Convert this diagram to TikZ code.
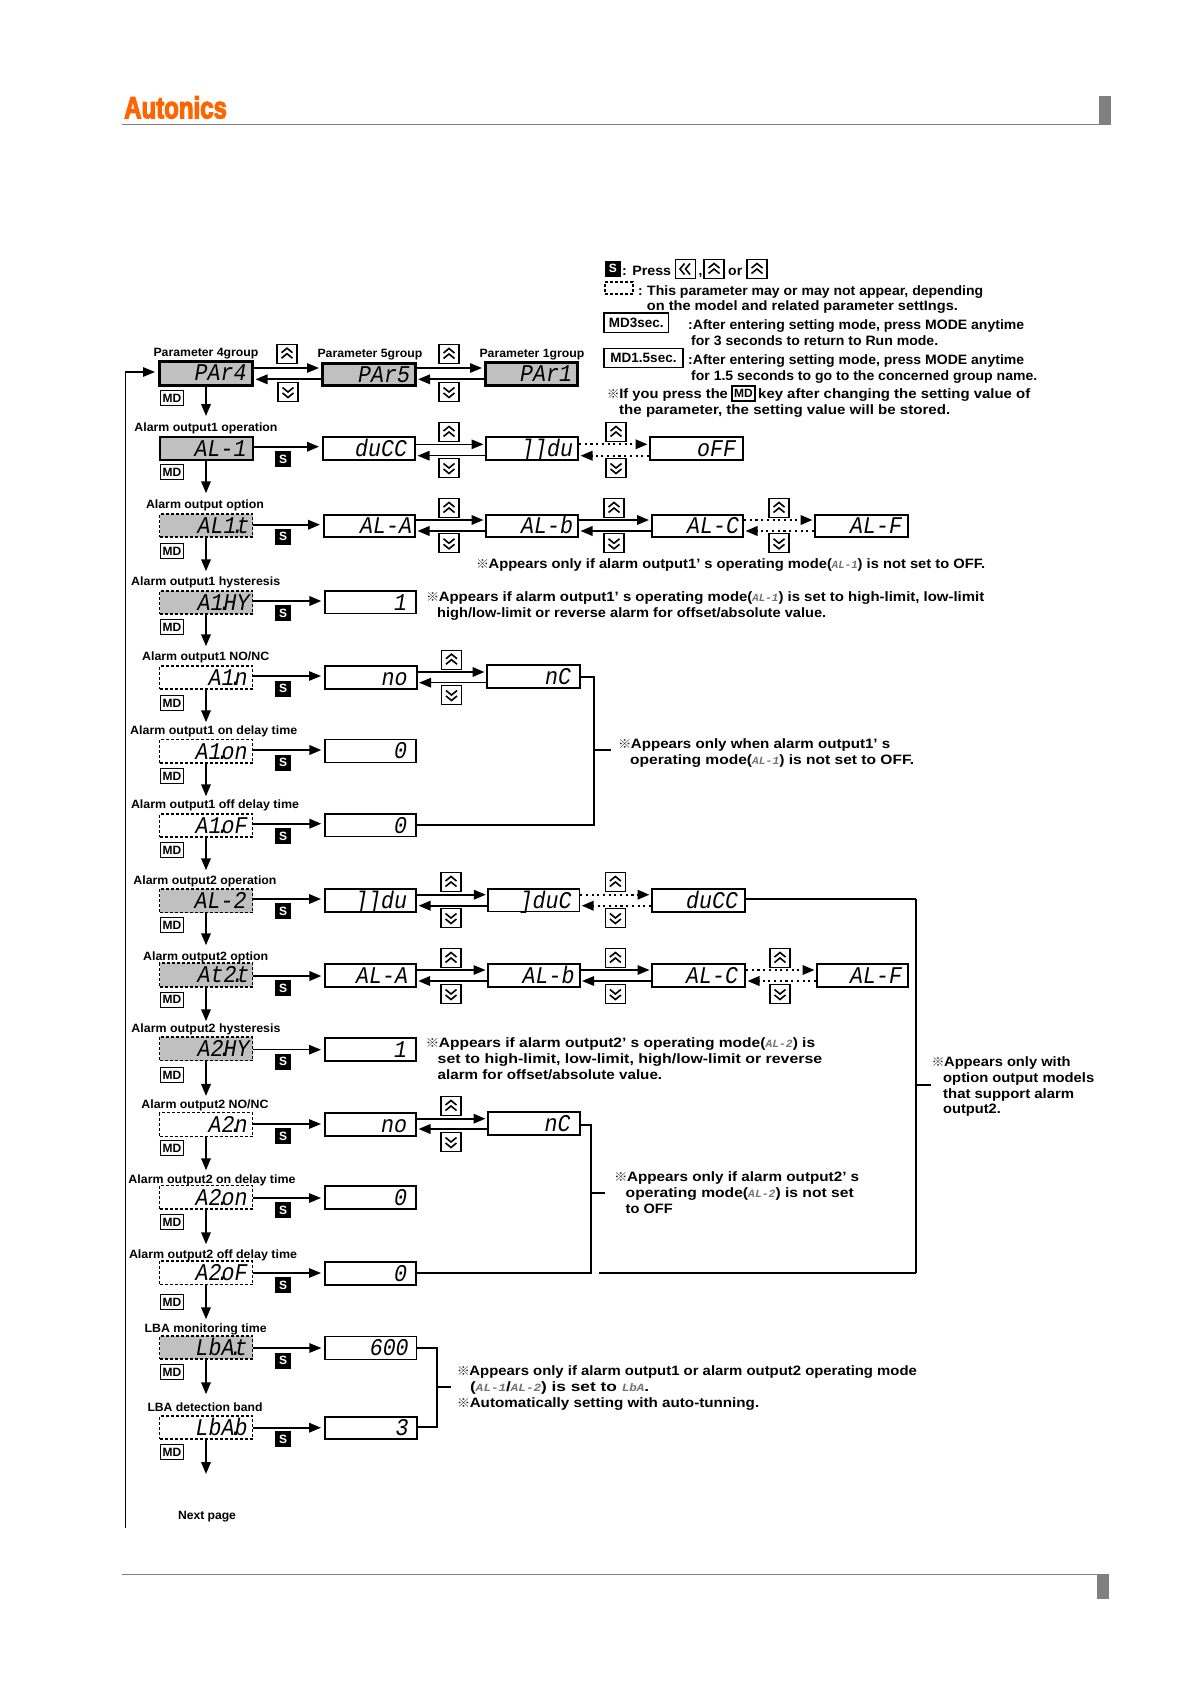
\documentclass[tikz,border=0pt]{standalone}
\usepackage{fontspec}
\usepackage{graphicx}
\usetikzlibrary{arrows.meta,calc}
\newfontfamily\lab{Liberation Sans}
\newfontfamily\dsp[FakeStretch=0.9]{Liberation Mono}
\newfontfamily\cjk{Noto Sans CJK KR}
\newfontfamily\logofont[FakeBold=4]{Liberation Sans}
\definecolor{boxgray}{HTML}{C0C0C0}
\definecolor{rulegray}{HTML}{808080}
\definecolor{logoorange}{HTML}{FF6400}
\newcommand\kome{\makebox[11.5pt][l]{\cjk\bfseries\fontsize{12}{12}\selectfont\textcolor{black!85}{※}}}
\newcommand\smseg[1]{{\dsp\itshape\fontsize{11}{11}\selectfont\textcolor{black!55}{#1}}}
\newcommand\dpt{\kern-5pt.\kern-8pt}
\tikzset{
  x=1pt,y=-1pt,
  solidbig/.style={draw,line width=3pt,fill=boxgray},
  solidgray/.style={draw,line width=2pt,fill=boxgray},
  dashgray/.style={draw,line width=1.5pt,fill=boxgray,dash pattern=on 3pt off 2pt},
  dashwhite/.style={draw,line width=1.5pt,fill=white,dash pattern=on 3pt off 2pt},
  valthin/.style={draw,line width=1.3pt,fill=white},
  valbold/.style={draw,line width=2pt,fill=white},
  keybox/.style={draw,line width=1.1pt,fill=white,minimum width=20pt,minimum height=19pt,inner sep=0pt},
  chev/.style={line width=1.6pt,line join=miter},
  mdkey/.style={draw,line width=1.2pt,fill=white,minimum width=23pt,minimum height=15pt,inner sep=0pt,font=\lab\bfseries\fontsize{12}{12}\selectfont},
  skey/.style={fill=black,text=white,minimum width=16pt,minimum height=16pt,inner sep=0pt,font=\lab\bfseries\fontsize{12}{12}\selectfont},
  tri/.style={-{Triangle[length=12pt,width=9.5pt]}},
  ln/.style={line width=1.4pt},
  lnb/.style={line width=2pt},
  dots/.style={line width=2.1pt,dash pattern=on 2.1pt off 3.6pt},
  note/.style={anchor=base west,inner sep=0pt,font=\lab\bfseries\fontsize{13.6}{13.6}\selectfont},
  caption/.style={anchor=base,inner sep=0pt,font=\lab\bfseries\fontsize{12}{12}\selectfont},
}
% name x1 y1 x2 y2 style margin text
\newcommand\dbox[8]{%
  \pgfmathsetlengthmacro\boxw{#4-#2}%
  \pgfmathsetlengthmacro\boxh{#5-#3}%
  \pgfmathsetlengthmacro\innerw{#4-#2-2*#7}%
  \node[#6,minimum width=\boxw,minimum height=\boxh,inner sep=0pt,font=\dsp\itshape\fontsize{24}{24}\selectfont] (#1) at ({(#2+#4)/2},{(#3+#5)/2})
    {\makebox[\innerw][r]{\rule{0pt}{15.5pt}\smash{#8}}};}
\newcommand\tl[5]{\node[note] (#1) at (#2,#3+5) {\resizebox{#4pt}{\height}{#5}};}
\newcommand\capt[5]{\node[caption] (#1) at (#2,#3+4.2) {\resizebox{#4pt}{\height}{#5}};}
\newcommand\kup[3]{\node[keybox] (#1) at (#2,#3) {};
  \draw[chev] ([shift={(-5.5,-1)}]#1.center) -- ([shift={(0,-5.5)}]#1.center) -- ([shift={(5.5,-1)}]#1.center);
  \draw[chev] ([shift={(-5.5,4.5)}]#1.center) -- ([shift={(0,0)}]#1.center) -- ([shift={(5.5,4.5)}]#1.center);}
\newcommand\kdn[3]{\node[keybox] (#1) at (#2,#3) {};
  \draw[chev] ([shift={(-5.5,-4.5)}]#1.center) -- ([shift={(0,0)}]#1.center) -- ([shift={(5.5,-4.5)}]#1.center);
  \draw[chev] ([shift={(-5.5,1)}]#1.center) -- ([shift={(0,5.5)}]#1.center) -- ([shift={(5.5,1)}]#1.center);}
\newcommand\klf[3]{\node[keybox] (#1) at (#2,#3) {};
  \draw[chev] ([shift={(-1,-5.5)}]#1.center) -- ([shift={(-5.5,0)}]#1.center) -- ([shift={(-1,5.5)}]#1.center);
  \draw[chev] ([shift={(4.5,-5.5)}]#1.center) -- ([shift={(0,0)}]#1.center) -- ([shift={(4.5,5.5)}]#1.center);}
% a b yupper ylower styleU styleL
\newcommand\arrs[6]{%
  \draw[#5,tri,shorten >=1.5pt] (#1.east |- 0,#3) -- (#2.west |- 0,#3);
  \draw[#6,tri,shorten >=1.5pt] (#2.west |- 0,#4) -- (#1.east |- 0,#4);}
\newcommand\enter[4]{\draw[#4,tri,shorten >=3pt] (#1.east |- 0,#3) -- (#2.west |- 0,#3);}
\newcommand\dnarr[3]{\draw[lnb,tri,shorten >=#3pt] (#1.south) -- (#2.north);}
\begin{document}
\begin{tikzpicture}
\useasboundingbox (0,0) rectangle (1191,1684);
\fill[white] (0,0) rectangle (1191,1684);
% header and footer
\node[inner sep=0pt,anchor=north west,text=logoorange] (logo) at (124,96) {\resizebox{102.7pt}{22pt}{\logofont\bfseries Autonics}};
\coordinate (hl) at (122,124.3); \coordinate (hr) at (1099,124.3);
\draw[rulegray,line width=1.2pt] (hl) -- (hr);
\fill[rulegray] (1099,96) rectangle (1111,125);
\coordinate (fl) at (122,1574.3); \coordinate (fr) at (1097,1574.3);
\draw[rulegray,line width=1.2pt] (fl) -- (fr);
\fill[rulegray] (1097,1574) rectangle (1109,1598.7);
% legend
\node[skey] (legs) at (612.8,268.5) {S};
\tl{legpress}{622}{270}{49}{: Press}
\klf{legk1}{685.5}{269}
\node[note] (legcomma) at (698.5,275) {,};
\kup{legk2}{714}{269}
\tl{legor}{728}{270}{14}{or}
\kup{legk3}{757}{269}
\node[draw,line width=1.2pt,dash pattern=on 3pt off 2pt,minimum width=28pt,minimum height=12pt,inner sep=0pt] (legdash) at (619,288) {};
\node[note] (legcolon) at (638,295) {:};
\tl{leg1}{647}{290}{336}{This parameter may or may not appear, depending}
\tl{leg2}{646.7}{305}{311}{on the model and related parameter settIngs.}
\node[draw,line width=1.5pt,minimum width=64.7pt,minimum height=19.7pt,inner sep=0pt,font=\lab\bfseries\fontsize{13.5}{13.5}\selectfont] (md3) at (636.3,322.8) {MD3sec.};
\tl{leg3}{688}{324}{336}{:After entering setting mode, press MODE anytime}
\tl{leg4}{691}{340}{247}{for 3 seconds to return to Run mode.}
\node[draw,line width=1.5pt,minimum width=79pt,minimum height=19pt,inner sep=0pt,font=\lab\bfseries\fontsize{13.5}{13.5}\selectfont] (md15) at (643.5,358.2) {MD1.5sec.};
\tl{leg5}{688}{359}{336}{:After entering setting mode, press MODE anytime}
\tl{leg6}{691}{375}{346}{for 1.5 seconds to go to the concerned group name.}
\tl{leg7}{606.7}{393}{121}{\kome If you press the}
\node[mdkey] (legmd) at (743.5,393.5) {MD};
\tl{leg7b}{758}{393}{272}{key after changing the setting value of}
\tl{leg8}{619}{409}{331}{the parameter, the setting value will be stored.}
% captions
\capt{c0a}{206}{352}{105}{Parameter 4group}
\capt{c0b}{370}{353}{105}{Parameter 5group}
\capt{c0c}{532}{353}{105}{Parameter 1group}
\capt{c1}{206}{427}{143}{Alarm output1 operation}
\capt{c2}{205}{504}{118}{Alarm output option}
\capt{c3}{205.7}{581}{149}{Alarm output1 hysteresis}
\capt{c4}{205.7}{656}{127}{Alarm output1 NO/NC}
\capt{c5}{213.7}{730.7}{167}{Alarm output1 on delay time}
\capt{c6}{215}{804.7}{168}{Alarm output1 off delay time}
\capt{c7}{205}{880.7}{143}{Alarm output2 operation}
\capt{c8}{205.7}{956}{125}{Alarm output2 option}
\capt{c9}{206}{1028}{149}{Alarm output2 hysteresis}
\capt{c10}{205}{1104}{127}{Alarm output2 NO/NC}
\capt{c11}{212}{1179.7}{167}{Alarm output2 on delay time}
\capt{c12}{213}{1254.7}{168}{Alarm output2 off delay time}
\capt{c13}{205.7}{1328}{122}{LBA monitoring time}
\capt{c14}{205}{1407}{115}{LBA detection band}
\capt{cnext}{207}{1515}{58}{Next page}
% group row
\dbox{par4}{159.5}{361}{252.5}{385}{solidbig}{6}{PAr4}
\dbox{par5}{322}{363}{415}{385.5}{solidbig}{5}{PAr5}
\dbox{par1}{485}{362.7}{577}{385}{solidbig}{5}{PAr1}
% left column
\dbox{L1}{159.5}{437}{252.5}{460}{solidgray}{6}{AL-1}
\dbox{L2}{159.5}{514}{252.5}{537}{dashgray}{3}{AL1\dpt t}
\dbox{L3}{159.5}{591}{252.5}{614}{dashgray}{3}{A1\dpt HY}
\dbox{L4}{159.5}{666}{252.5}{689}{dashwhite}{5}{A1\dpt n}
\dbox{L5}{159.5}{739.5}{252.5}{763}{dashwhite}{5}{A1\dpt on}
\dbox{L6}{159.5}{814}{252.5}{837}{dashwhite}{5}{A1\dpt oF}
\dbox{L7}{159.5}{889}{252.5}{912.7}{dashgray}{6}{AL-2}
\dbox{L8}{159.5}{963}{252.5}{987}{dashgray}{3}{At2\dpt t}
\dbox{L9}{159.5}{1037}{252.5}{1060.7}{dashgray}{3}{A2\dpt HY}
\dbox{L10}{159.5}{1112.7}{252.5}{1136.7}{dashwhite}{5}{A2\dpt n}
\dbox{L11}{159.5}{1185.7}{252.5}{1209}{dashwhite}{5}{A2\dpt on}
\dbox{L12}{159.5}{1261}{252.5}{1284.7}{dashwhite}{5}{A2\dpt oF}
\dbox{L13}{159.5}{1336}{252.5}{1359}{dashgray}{5}{LbA\dpt t}
\dbox{L14}{159.5}{1416}{252.5}{1439}{dashwhite}{5}{LbA\dpt b}
% value boxes
\dbox{v1a}{323}{437}{415}{460}{valbold}{8}{duCC}
\dbox{v1b}{486}{437}{578}{460}{valbold}{5}{]]du}
\dbox{v1c}{650}{437}{743}{460}{valbold}{7}{oFF}
\dbox{v2a}{324}{514.5}{415}{537}{valbold}{3}{AL-A}
\dbox{v2b}{486}{514.5}{578}{537}{valbold}{5}{AL-b}
\dbox{v2c}{651.5}{514.5}{743}{537}{valbold}{4}{AL-C}
\dbox{v2f}{815}{514.5}{908}{537}{valbold}{6}{AL-F}
\dbox{v3a}{325}{591}{416}{613.5}{valthin}{9}{1}
\dbox{v4a}{325}{666}{416.5}{689}{valbold}{9}{no}
\dbox{v4b}{487}{665}{580}{688}{valbold}{9}{nC}
\dbox{v5a}{325}{739.5}{416}{762.5}{valthin}{9}{0}
\dbox{v6a}{325}{814}{416}{836.7}{valthin}{9}{0}
\dbox{v7a}{325}{889}{416}{912}{valbold}{9}{]]du}
\dbox{v7b}{488}{889}{579.5}{911.5}{valthin}{8}{]duC}
\dbox{v7c}{652}{889}{745}{911.5}{valbold}{7}{duCC}
\dbox{v8a}{325}{964}{416}{987}{valthin}{8}{AL-A}
\dbox{v8b}{488}{964}{579.5}{987}{valbold}{5}{AL-b}
\dbox{v8c}{652}{964}{745}{987}{valbold}{7}{AL-C}
\dbox{v8f}{817}{964}{908}{987}{valbold}{6}{AL-F}
\dbox{v9a}{325}{1037.5}{416}{1061}{valbold}{9}{1}
\dbox{v10a}{325}{1112.5}{416}{1136}{valbold}{9}{no}
\dbox{v10b}{488}{1111.5}{579.5}{1135}{valbold}{9}{nC}
\dbox{v11a}{325}{1186}{416}{1209}{valbold}{9}{0}
\dbox{v12a}{325}{1262}{416}{1285}{valbold}{9}{0}
\dbox{v13a}{325}{1336.5}{416.7}{1359.5}{valthin}{8}{600}
\dbox{v14a}{325}{1416.5}{416.7}{1439}{valbold}{8}{3}
% MD keys
\foreach \nm/\yy in {m0/398,m1/472,m2/551,m3/627,m4/703,m5/776,m6/850,m7/925,m8/999.7,m9/1075,m10/1148,m11/1222,m12/1302,m13/1372,m14/1452}
  \node[mdkey] (\nm) at (172,\yy) {MD};
% S keys
\foreach \nm/\yy in {s1/459,s2/536.7,s3/613,s4/688.7,s5/762.7,s6/836,s7/911,s8/988,s9/1061.7,s10/1136,s11/1210,s12/1285,s13/1360.7,s14/1439}
  \node[skey] (\nm) at (283,\yy) {S};
% main column
\dnarr{par4}{L1}{20}
\dnarr{L1}{L2}{20}
\dnarr{L2}{L3}{19}
\dnarr{L3}{L4}{19}
\dnarr{L4}{L5}{16.5}
\dnarr{L5}{L6}{17}
\dnarr{L6}{L7}{18}
\dnarr{L7}{L8}{17}
\dnarr{L8}{L9}{15}
\dnarr{L9}{L10}{16}
\dnarr{L10}{L11}{14.7}
\dnarr{L11}{L12}{16}
\dnarr{L12}{L13}{16}
\dnarr{L13}{L14}{21}
\coordinate (nextp) at (206,1474);
\draw[lnb,tri] (L14.south) -- (nextp);
% loop line
\coordinate (loopa) at (125.5,1528);
\coordinate (loopb) at (125.5,372);
\draw[ln,tri,shorten >=3pt] (loopa) -- (loopb) -- (par4.west |- loopb);
% entries
\enter{L1}{v1a}{446.7}{lnb}
\enter{L2}{v2a}{524.7}{lnb}
\enter{L3}{v3a}{601}{lnb}
\enter{L4}{v4a}{676}{ln}
\enter{L5}{v5a}{750}{lnb}
\enter{L6}{v6a}{823.7}{lnb}
\enter{L7}{v7a}{899}{lnb}
\enter{L8}{v8a}{976}{lnb}
\enter{L9}{v9a}{1049.7}{ln}
\enter{L10}{v10a}{1124}{ln}
\enter{L11}{v11a}{1198}{ln}
\enter{L12}{v12a}{1273}{ln}
\enter{L13}{v13a}{1348}{ln}
\enter{L14}{v14a}{1427.7}{lnb}
% pairs
\arrs{par4}{par5}{368}{379.3}{ln}{lnb}
\arrs{par5}{par1}{368}{379.3}{ln}{lnb}
\arrs{v1a}{v1b}{444.3}{455.7}{ln}{ln}
\arrs{v1b}{v1c}{444.3}{455.7}{dots}{dots}
\arrs{v2a}{v2b}{520}{531}{lnb}{lnb}
\arrs{v2b}{v2c}{520}{531}{lnb}{lnb}
\arrs{v2c}{v2f}{520}{531}{dots}{dots}
\arrs{v4a}{v4b}{672}{682.7}{lnb}{ln}
\arrs{v7a}{v7b}{894.7}{905.7}{lnb}{lnb}
\arrs{v7b}{v7c}{894.7}{905.7}{dots}{dots}
\arrs{v8a}{v8b}{970}{981}{ln}{lnb}
\arrs{v8b}{v8c}{970}{981}{ln}{ln}
\arrs{v8c}{v8f}{970}{981}{dots}{dots}
\arrs{v10a}{v10b}{1118.7}{1129}{lnb}{lnb}
% keys
\kup{k0au}{287}{353.7} \kdn{k0ad}{288}{392}
\kup{k0bu}{449}{354} \kdn{k0bd}{449}{392}
\kup{k1au}{449}{432} \kdn{k1ad}{449}{468}
\kup{k1bu}{616}{432} \kdn{k1bd}{616}{468}
\kup{k2au}{449}{508} \kdn{k2ad}{449}{543.3}
\kup{k2bu}{614}{508} \kdn{k2bd}{614}{543.3}
\kup{k2cu}{779}{508} \kdn{k2cd}{779}{543.3}
\kup{k4au}{451.5}{659.7} \kdn{k4ad}{451.5}{695}
\kup{k7au}{451}{882} \kdn{k7ad}{451}{918}
\kup{k7bu}{615.4}{882} \kdn{k7bd}{615.4}{918}
\kup{k8au}{451}{958} \kdn{k8ad}{451}{994}
\kup{k8bu}{615.4}{958} \kdn{k8bd}{615.4}{994}
\kup{k8cu}{780}{958} \kdn{k8cd}{780}{994}
\kup{k10au}{451}{1106} \kdn{k10ad}{451}{1142}
% brackets
\coordinate (b1t) at (594,677); \coordinate (b1b) at (594,825);
\coordinate (b1m) at (594,750); \coordinate (b1e) at (611,750);
\draw[ln] (v4b.east |- b1t) -- (b1t) -- (b1b) -- (v6a.east |- b1b);
\draw[lnb] (b1m) -- (b1e);
\coordinate (b2t) at (591.4,1124.7); \coordinate (b2b) at (591.4,1272.7);
\coordinate (b2m) at (591.4,1193); \coordinate (b2e) at (605,1193);
\draw[lnb] (v10b.east |- b2t) -- (b2t) -- (b2b) -- (v12a.east |- b2b);
\draw[lnb] (b2m) -- (b2e);
\coordinate (b3t) at (916,899); \coordinate (b3b) at (916,1272.7);
\coordinate (b3f) at (599,1272.7);
\coordinate (b3m) at (916,1084.7); \coordinate (b3e) at (930.6,1084.7);
\draw[ln] (b3t) -- (b3b);
\draw[lnb] (v7c.east |- b3t) -- (b3t);
\draw[lnb] (b3b) -- (b3f);
\draw[lnb] (b3m) -- (b3e);
\coordinate (b4t) at (437,1348); \coordinate (b4b) at (437,1427);
\coordinate (b4m) at (437,1387); \coordinate (b4e) at (451,1387);
\draw[ln] (v13a.east |- b4t) -- (b4t) -- (b4b) -- (v14a.east |- b4b);
\draw[ln] (b4m) -- (b4e);
% notes
\tl{n2}{476}{563}{509}{\kome Appears only if alarm output1’ s operating mode(\smseg{AL-1}) is not set to OFF.}
\tl{n3a}{426}{596}{558}{\kome Appears if alarm output1’ s operating mode(\smseg{AL-1}) is set to high-limit, low-limit}
\tl{n3b}{437}{612}{389}{high/low-limit or reverse alarm for offset/absolute value.}
\tl{n5a}{618}{743.7}{272}{\kome Appears only when alarm output1’ s}
\tl{n5b}{630}{759}{284}{operating mode(\smseg{AL-1}) is not set to OFF.}
\tl{n9a}{425.5}{1042}{389.5}{\kome Appears if alarm output2’ s operating mode(\smseg{AL-2}) is}
\tl{n9b}{437.5}{1058}{384.5}{set to high-limit, low-limit, high/low-limit or reverse}
\tl{n9c}{437.5}{1074}{224.5}{alarm for offset/absolute value.}
\tl{n11a}{614}{1176.7}{245}{\kome Appears only if alarm output2’ s}
\tl{n11b}{625.5}{1192}{228}{operating mode(\smseg{AL-2}) is not set}
\tl{n11c}{625.5}{1208}{47}{to OFF}
\tl{nra}{931.5}{1061}{139}{\kome Appears only with}
\tl{nrb}{943}{1077}{151}{option output models}
\tl{nrc}{943}{1093}{131}{that support alarm}
\tl{nrd}{943}{1108.7}{57.6}{output2.}
\tl{nla}{456.7}{1370.7}{460}{\kome Appears only if alarm output1 or alarm output2 operating mode}
\tl{nlb}{470}{1386}{179}{(\smseg{AL-1}/\smseg{AL-2}) is set to \smseg{LbA}.}
\tl{nlc}{456.7}{1402}{302.3}{\kome Automatically setting with auto-tunning.}
\end{tikzpicture}
\end{document}
